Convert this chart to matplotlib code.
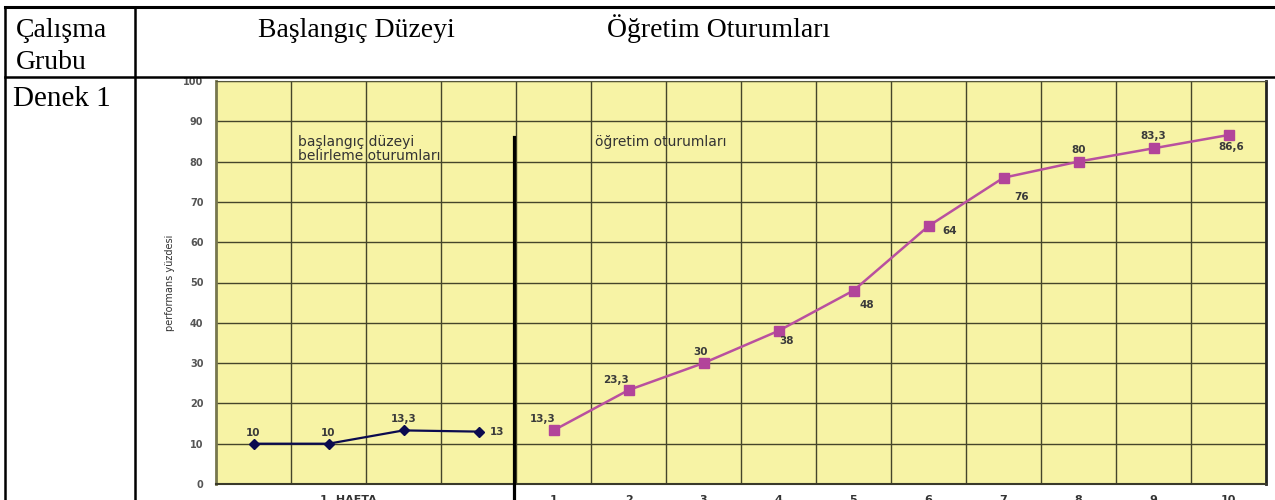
import numpy as np
import matplotlib
matplotlib.use('Agg')
import matplotlib.pyplot as plt
from matplotlib.lines import Line2D

# values
baseline = [10, 10, 13.3, 13]
baseline_labels = ['10', '10', '13,3', '13']
treatment = [13.3, 23.3, 30, 38, 48, 64, 76, 80, 83.3, 86.6]
treatment_labels = ['13,3', '23,3', '30', '38', '48', '64', '76', '80', '83,3', '86,6']
sessions = ['1', '2', '3', '4', '5', '6', '7', '8', '9', '10']
week_label = '1. HAFTA'
yticks = list(range(0, 101, 10))

# label placement (pixels from the point)
baseline_offsets = [(0, 11), (0, 11), (0, 11), (11, 0)]
baseline_ha = ['center', 'center', 'center', 'left']
treatment_offsets = [(-11, 11), (-13, 10), (-3, 11), (8, -10), (13, -14),
                     (21, -5), (18, -19), (0, 12), (0, 12), (3, -12)]

W, H = 1275, 500
def fx(px):
    return px / W
def fy(py):
    return 1 - py / H

fig = plt.figure(figsize=(12.75, 5), dpi=100)
fig.patch.set_facecolor('white')

# table frame
for (x0, y0, x1, y1, lw) in [(5, 7, 1275, 7, 2.2), (5, 77, 1275, 77, 1.8),
                             (5, 7, 5, 500, 1.8), (135, 7, 135, 500, 1.8)]:
    fig.add_artist(Line2D([fx(x0), fx(x1)], [fy(y0), fy(y1)], color='black', lw=lw))

serif = dict(family='Liberation Serif', size=20, color='black', va='baseline')
fig.text(fx(16), fy(37), 'Çalışma', **serif)
fig.text(fx(16), fy(69), 'Grubu', **serif)
fig.text(fx(258), fy(37), 'Başlangıç Düzeyi', **serif)
fig.text(fx(607), fy(37), 'Öğretim Oturumları', **serif)
fig.text(fx(13), fy(106), 'Denek 1', family='Liberation Serif', size=21,
         color='black', va='baseline')

# chart
ax = fig.add_axes([fx(216), fy(484), fx(1266) - fx(216), fy(81) - fy(484)])
ax.set_facecolor('#f7f3a5')

nb = len(baseline)
ncols = nb + len(treatment)
bx = np.arange(nb) + 0.5
tx = np.arange(len(treatment)) + nb + 0.5

ax.set_xlim(0, ncols)
ax.set_ylim(0, 100)
ax.set_yticks(yticks)
ax.set_xticks([nb / 2 - 0.24] + list(tx))
ax.set_xticklabels([week_label] + sessions)
ax.set_xticks(np.arange(1, ncols), minor=True)
ax.grid(axis='y', which='major', color='#45452a', lw=1)
ax.grid(axis='x', which='minor', color='#45452a', lw=1)
ax.set_axisbelow(True)
ax.tick_params(axis='both', which='both', length=0)
ax.tick_params(axis='y', pad=9, labelsize=7, labelcolor='#555555')
ax.tick_params(axis='x', pad=8, labelsize=8, labelcolor='#333333')
for lab in ax.get_yticklabels() + ax.get_xticklabels():
    lab.set_fontweight('bold')

ax.spines['left'].set_color('#77774d')
ax.spines['left'].set_linewidth(2)
ax.spines['bottom'].set_color('#3a3a2a')
ax.spines['bottom'].set_linewidth(1.5)
ax.spines['top'].set_color('#55553a')
ax.spines['right'].set_color('#222222')
ax.spines['right'].set_linewidth(2)

ax.set_ylabel('performans yüzdesi', fontsize=7, color='#333333')
ax.yaxis.set_label_coords(-0.039, 0.5)

ax.plot(bx, baseline, color='#0b0b4f', lw=1.6, marker='D', ms=5.5, zorder=3)
ax.plot(tx, treatment, color='#b9509f', lw=1.8, marker='s', ms=7.5,
        markerfacecolor='#b2449a', markeredgecolor='#b2449a', zorder=3)

# phase change line
ax.plot([nb - 0.03, nb - 0.03], [-8, 86], color='black', lw=2.3, clip_on=False, zorder=4)

lab_style = dict(fontsize=7.5, fontweight='bold', color='#3a3a3a',
                 textcoords='offset pixels', va='center')
for x, y, s, off, ha in zip(bx, baseline, baseline_labels, baseline_offsets, baseline_ha):
    ax.annotate(s, (x, y), xytext=off, ha=ha, **lab_style)
for x, y, s, off in zip(tx, treatment, treatment_labels, treatment_offsets):
    ax.annotate(s, (x, y), xytext=off, ha='center', **lab_style)

ax.text(1.09, 86.6, 'başlangıç düzeyi\nbelirleme oturumları', fontsize=10,
        color='#333333', ha='left', va='top', linespacing=1.0)
ax.text(5.05, 84.8, 'öğretim oturumları', fontsize=10, color='#333333',
        ha='left', va='center')

fig.savefig('out.png', dpi=100)
